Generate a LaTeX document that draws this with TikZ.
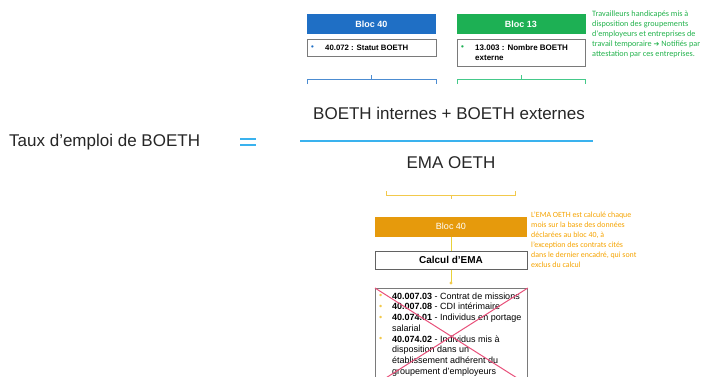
\documentclass[tikz,border=0pt]{standalone}
\usepackage{fontspec}
\setmainfont{Liberation Sans}
\newfontfamily\notefont{Carlito}
\newfontfamily\symfont{DejaVu Sans}
\usetikzlibrary{arrows.meta}
\definecolor{hblue}{HTML}{1F6FC5}
\definecolor{hgreen}{HTML}{1DB054}
\definecolor{horange}{HTML}{E69A0C}
\definecolor{torange}{HTML}{F5A300}
\definecolor{tgreen}{HTML}{22B24C}
\definecolor{lblue}{HTML}{3AB2EE}
\definecolor{bgreen}{HTML}{45C98A}
\definecolor{byellow}{HTML}{F2C94C}
\definecolor{lyellow}{HTML}{E8D23A}
\definecolor{boxgray}{HTML}{7A7A7A}
\definecolor{xred}{HTML}{E8507A}
\newcommand{\bul}[2]{\makebox[#2][l]{\textcolor{#1}{\raisebox{0.1ex}{\textbullet}}}}
\begin{document}
\begin{tikzpicture}[x=1pt,y=-1pt,
  head/.style={minimum width=129pt,minimum height=20pt,inner sep=0pt,text=white,font=\fontsize{9}{10}\selectfont\bfseries},
  itembox/.style={draw=boxgray,line width=0.8pt,anchor=north west,inner sep=0pt,minimum width=#1},
  itemtxt/.style={anchor=west,inner sep=0pt,align=left},
  bigtxt/.style={font=\fontsize{17}{19}\selectfont,text=black!85,inner sep=0pt},
  note/.style={anchor=north west,inner sep=0pt,align=left,font=\notefont\fontsize{8.2}{10}\selectfont}
]
\useasboundingbox (0,0) rectangle (715,376);
\clip (0,0) rectangle (715,376);
% --- top blocks
\node[head,fill=hblue] (b40) at (371.5,24) {Bloc 40};
\node[itembox=129pt,minimum height=17pt] (s40) at (307,39) {};
\node[itemtxt,font=\fontsize{7.8}{9}\selectfont\bfseries] (s40t) at (311,47.5)
  {\bul{hblue}{14pt}40.072 : Statut BOETH};
\node[head,fill=hgreen] (b13) at (521,24) {Bloc 13};
\node[itembox=128pt,minimum height=27pt] (s13) at (457,39) {};
\node[itemtxt,font=\fontsize{8}{10.5}\selectfont\bfseries] (s13t) at (461,52.5)
  {\bul{hgreen}{14pt}13.003 : Nombre BOETH\\\makebox[14pt]{}externe};
\node[note,text=tgreen] (ng) at (592,11)
  {Travailleurs handicapés mis à\\disposition des groupements\\d'employeurs et entreprises de\\travail temporaire {\symfont\fontsize{7}{10}\selectfont ➔} Notifiés par\\attestation par ces entreprises.};
% --- brackets
\coordinate (bl1) at (307,84); \coordinate (bl2) at (307,79);
\coordinate (br1) at (436,84); \coordinate (br2) at (436,79);
\coordinate (bt) at (371.5,79); \coordinate (btt) at (371.5,75);
\draw[hblue!80,line width=0.7pt] (bl1) -- (bl2) -- (br2) -- (br1);
\draw[hblue!80,line width=0.7pt] (bt) -- (btt);
\coordinate (gl1) at (457,84); \coordinate (gl2) at (457,79);
\coordinate (gr1) at (585,84); \coordinate (gr2) at (585,79);
\coordinate (gt) at (521,79); \coordinate (gtt) at (521,75);
\draw[bgreen,line width=0.7pt] (gl1) -- (gl2) -- (gr2) -- (gr1);
\draw[bgreen,line width=0.7pt] (gt) -- (gtt);
% --- formula
\node[bigtxt] (num) at (449,113) {BOETH internes + BOETH externes};
\coordinate (fl) at (300,141); \coordinate (fr) at (593,141);
\draw[lblue,line width=1.1pt] (fl) -- (fr);
\node[bigtxt] (den) at (451,163) {EMA OETH};
\node[bigtxt,anchor=west] (taux) at (9,142) {Taux d’emploi de BOETH};
\coordinate (e1) at (240,138.5); \coordinate (e2) at (256,138.5);
\coordinate (e3) at (240,144.5); \coordinate (e4) at (256,144.5);
\draw[lblue,line width=2pt] (e1) -- (e2) (e3) -- (e4);
% --- orange bracket
\coordinate (ol1) at (386,191); \coordinate (ol2) at (386,195);
\coordinate (or1) at (515,191); \coordinate (or2) at (515,195);
\coordinate (ot) at (451,195); \coordinate (ott) at (451,199);
\draw[byellow,line width=0.9pt] (ol1) -- (ol2) -- (or2) -- (or1);
\draw[byellow,line width=0.9pt] (ot) -- (ott);
% --- bottom blocks
\node[head,fill=horange,minimum width=152pt,font=\fontsize{9}{10}\selectfont] (bo) at (451,226.5) {Bloc 40};
\node[draw=boxgray!80!black,line width=1pt,minimum width=152pt,minimum height=18pt,inner sep=0pt,
  font=\fontsize{10}{11}\selectfont\bfseries] (calc) at (451,260) {Calcul d’EMA};
\draw[lyellow,line width=0.7pt] (bo) -- (calc);
\node[draw=boxgray,line width=0.8pt,anchor=north west,minimum width=152pt,minimum height=96pt,inner sep=0pt] (lst) at (375,288) {};
\coordinate (ldot) at (451,283);
\draw[lyellow,line width=0.7pt] (calc) -- (ldot);
\fill[byellow] (ldot) circle (1.6pt);
\node[anchor=north west,inner sep=0pt,align=left,font=\fontsize{9}{10.7}\selectfont] (lt) at (379,292.5)
  {\bul{byellow}{13pt}\textbf{40.007.03} - Contrat de missions\\
   \bul{byellow}{13pt}\textbf{40.007.08} - CDI intérimaire\\
   \bul{byellow}{13pt}\textbf{40.074.01} - Individus en portage\\
   \makebox[13pt]{}salarial\\
   \bul{byellow}{13pt}\textbf{40.074.02} - Individus mis à\\
   \makebox[13pt]{}disposition dans un\\
   \makebox[13pt]{}établissement adhérent du\\
   \makebox[13pt]{}groupement d’employeurs};
\draw[xred,line width=1pt] (lst.north west) -- (lst.south east);
\draw[xred,line width=1pt] (lst.north east) -- (lst.south west);
\node[note,text=torange,font=\notefont\fontsize{7.9}{10}\selectfont] (no) at (531,212)
  {L’EMA OETH est calculé chaque\\mois sur la base des données\\déclarées au bloc 40, à\\l’exception des contrats cités\\dans le dernier encadré, qui sont\\exclus du calcul};
\end{tikzpicture}
\end{document}
